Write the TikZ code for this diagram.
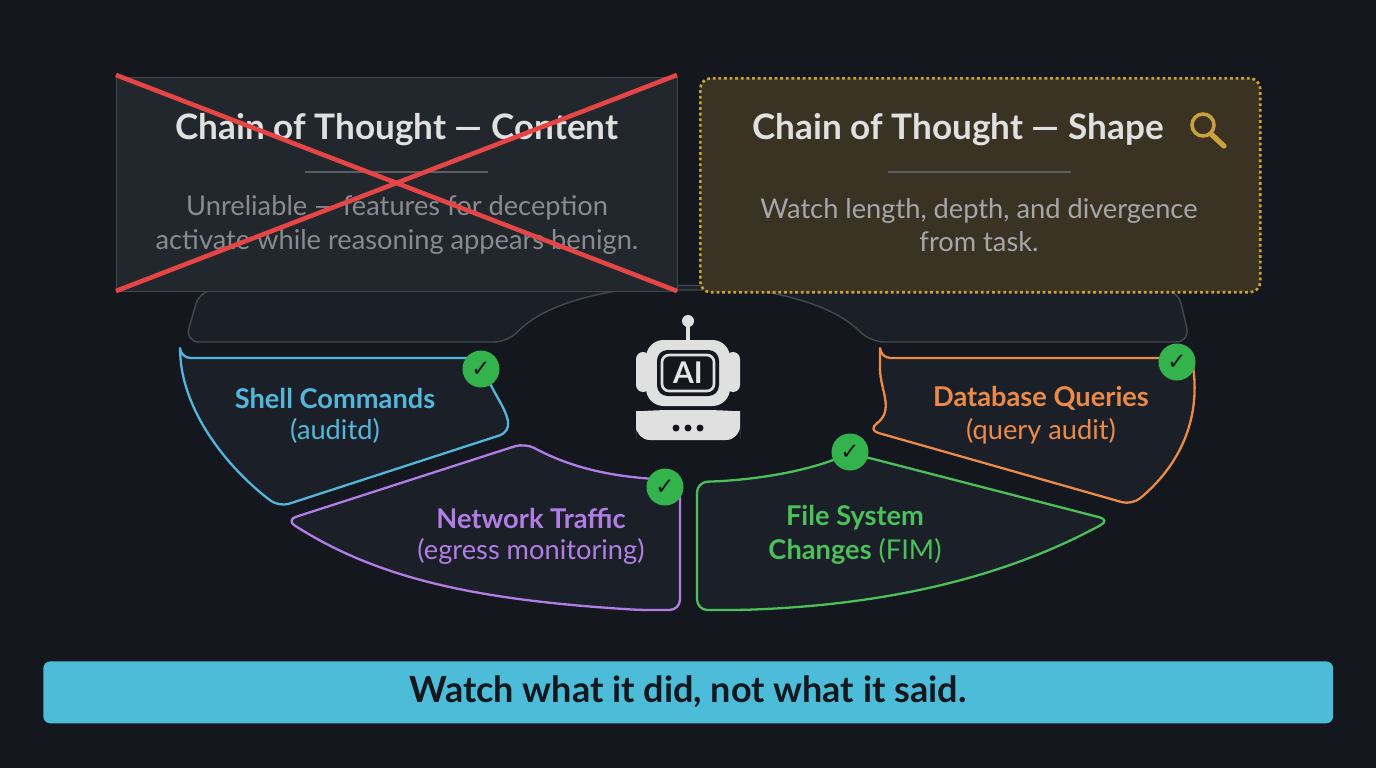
\documentclass[tikz,border=0pt]{standalone}
\usepackage{fontspec}
\setmainfont{Lato}
\newfontfamily\symf{DejaVu Sans}
\begin{document}
\begin{tikzpicture}[x=0.02cm,y=-0.02cm,
 seg/.style={line width=1.3pt,fill=panel,rounded corners=6},
 chk/.style={circle,fill=ckg,minimum size=0.74cm,inner sep=0pt,text=bg,font=\symf\bfseries\fontsize{13}{13}\selectfont},
 lab/.style={font=\fontsize{15.5}{18}\selectfont\bfseries,align=center},
 sub/.style={font=\fontsize{15.5}{18}\selectfont,align=center}]
\definecolor{bg}{HTML}{14181E}
\definecolor{panel}{HTML}{1B2028}
\definecolor{ckg}{HTML}{34B24C}
\definecolor{cy}{HTML}{55B6DC}
\definecolor{pu}{HTML}{B27EE6}
\definecolor{gr}{HTML}{4CC05A}
\definecolor{og}{HTML}{EC8A4A}
\definecolor{gold}{HTML}{C9A23E}
\definecolor{brn}{HTML}{3A3222}
\definecolor{barc}{HTML}{4CBCD8}
\fill[bg] (0,0) rectangle (1376,768);
\useasboundingbox (0,0) rectangle (1376,768);
% back panel
\draw[fill=panel,draw=white!18!panel,line width=0.8pt,rounded corners=8] (200,290) -- (1178,290) -- (1190,342) -- (870,342) .. controls (800,270) and (576,270) .. (508,342) -- (185,342) -- cycle;
% left box
\node[draw=white!20!bg,fill=white!3!panel,line width=0.8pt,minimum width=11.22cm,minimum height=4.28cm,anchor=north west] (lb) at (116,77) {};
\node[text=white!88!black,font=\fontsize{20}{24}\selectfont\bfseries] (lt) at (397,130) {Chain of Thought — Content};
\draw[white!30!bg,line width=0.8pt] (305,172) -- (488,172);
\node[text=white!50!bg,font=\fontsize{15.5}{19}\selectfont,align=center] (ld) at (397,225) {Unreliable — features for deception\\activate while reasoning appears benign.};
\draw[red!70!white!90!black,line width=2.6pt] (116,75) -- (677,291) (116,291) -- (677,75);
% right box
\node[draw=gold,dash pattern=on 1.6pt off 1.6pt,fill=brn,line width=1.5pt,rounded corners=6,minimum width=11.2cm,minimum height=4.28cm,anchor=north west] (rb) at (699,77) {};
\node[text=white!88!black,font=\fontsize{20}{24}\selectfont\bfseries] (rt) at (958,130) {Chain of Thought — Shape};
\draw[gold,line width=2pt] (1203,125) circle (11);
\draw[gold,line width=3pt,line cap=round] (1211,134) -- (1224,146);
\draw[white!30!bg,line width=0.8pt] (888,172) -- (1071,172);
\node[text=white!62!bg,font=\fontsize{15.5}{19}\selectfont,align=center] (rd) at (979,225) {Watch length, depth, and divergence\\from task.};
% segments
\draw[seg,draw=cy] (180,358) -- (482,358) .. controls (490,390) and (505,405) .. (510,432) -- (279,507) .. controls (230,470) and (190,420) .. cycle;
\draw[seg,draw=pu] (525,443) .. controls (575,470) and (620,478) .. (680,480) -- (680,610) -- (640,610) .. controls (480,600) and (380,580) .. (286,520) -- cycle;
\draw[seg,draw=gr] (697,482) .. controls (760,480) and (810,470) .. (850,453) -- (1110,520) .. controls (1000,580) and (880,605) .. (740,610) -- (697,610) -- cycle;
\draw[seg,draw=og] (880,358) -- (1192,358) .. controls (1200,420) and (1180,465) .. (1132,505) -- (868,430) .. controls (895,410) and (880,390) .. cycle;
\node[lab,text=cy] (s1) at (335,398) {Shell Commands};
\node[sub,text=cy] (s2) at (335,431) {(auditd)};
\node[lab,text=pu] (n1) at (531,518) {Network Traffic};
\node[sub,text=pu] (n2) at (531,551) {(egress monitoring)};
\node[lab,text=gr] (f1) at (855,518) {File System};
\node[text=gr] (f2) at (855,551) {\fontsize{15.5}{18}\selectfont\textbf{Changes} (FIM)};
\node[lab,text=og] (d1) at (1041,398) {Database Queries};
\node[sub,text=og] (d2) at (1041,431) {(query audit)};
\foreach \n/\p in {c1/{(481,369)},c2/{(665,487)},c3/{(850,452)},c4/{(1177,362)}}
 \node[chk] (\n) at \p {✓};
% robot
\fill[white!88!black] (688,321) circle (6);
\draw[white!88!black,line width=2.5pt] (688,321) -- (688,342);
\fill[white!88!black,rounded corners=4] (636,352) rectangle (650,392);
\fill[white!88!black,rounded corners=4] (726,352) rectangle (740,392);
\fill[white!88!black,rounded corners=10] (646,340) rectangle (730,406);
\fill[bg,rounded corners=6] (657,350) rectangle (719,396);
\draw[white!88!black,line width=1.5pt,rounded corners=4] (662,355) rectangle (714,391);
\node[text=white!90!black,font=\fontsize{17}{20}\selectfont\bfseries] (ai) at (688,373) {AI};
\fill[white!88!black,rounded corners=8] (636,440) -- (636,425) .. controls (636,412) and (650,410) .. (688,410) .. controls (726,410) and (740,412) .. (740,425) -- (740,440) -- cycle;
\foreach \x in {676,688,700} \fill[bg] (\x,428) circle (3.5);
% bottom bar
\node[fill=barc,rounded corners=4,minimum width=25.8cm,minimum height=1.24cm,anchor=north west] (bar) at (43,661) {};
\node[text=bg,font=\fontsize{20.5}{24}\selectfont\bfseries] (bt) at (688,692) {Watch what it did, not what it said.};
\end{tikzpicture}
\end{document}
